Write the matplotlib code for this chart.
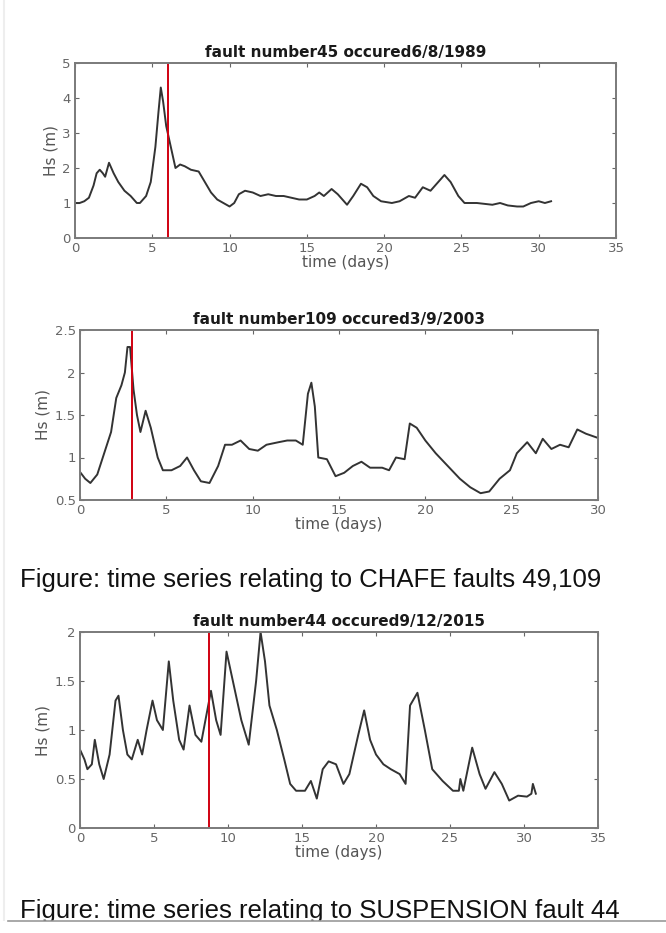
import matplotlib.pyplot as plt

# fault 45 (CHAFE) - Hs time series
t1 = [0, 0.3, 0.6, 0.9, 1.2, 1.4, 1.6, 1.8, 1.95, 2.2, 2.5, 2.8, 3.2, 3.6, 4.0, 4.2,
      4.6, 4.9, 5.2, 5.4, 5.55, 5.7, 5.9, 6.2, 6.5, 6.8, 7.1, 7.5, 8.0, 8.4, 8.8, 9.2,
      9.6, 10.0, 10.3, 10.6, 11.0, 11.5, 12.0, 12.5, 13.0, 13.5, 14.0, 14.5, 15.0, 15.5,
      15.8, 16.1, 16.6, 17.0, 17.6, 18.0, 18.5, 18.9, 19.3, 19.8, 20.5, 21.0, 21.6, 22.0,
      22.5, 23.0, 23.5, 23.9, 24.3, 24.8, 25.2, 26.0, 27.0, 27.5, 28.0, 28.6, 29.0, 29.5,
      30.0, 30.4, 30.8]
hs1 = [1.0, 1.0, 1.05, 1.15, 1.5, 1.85, 1.95, 1.85, 1.75, 2.15, 1.85, 1.6, 1.35, 1.2, 1.0, 1.0,
       1.2, 1.6, 2.6, 3.6, 4.3, 3.9, 3.2, 2.6, 2.0, 2.1, 2.05, 1.95, 1.9, 1.6, 1.3, 1.1,
       1.0, 0.9, 1.0, 1.25, 1.35, 1.3, 1.2, 1.25, 1.2, 1.2, 1.15, 1.1, 1.1, 1.2,
       1.3, 1.2, 1.4, 1.25, 0.95, 1.2, 1.55, 1.45, 1.2, 1.05, 1.0, 1.05, 1.2, 1.15,
       1.45, 1.35, 1.6, 1.8, 1.6, 1.2, 1.0, 1.0, 0.95, 1.0, 0.93, 0.9, 0.9, 1.0,
       1.05, 1.0, 1.05]

# fault 109 (CHAFE)
t2 = [0, 0.3, 0.6, 1.0, 1.4, 1.8, 2.1, 2.4, 2.6, 2.75, 2.9, 3.1, 3.3, 3.5, 3.8, 4.1,
      4.5, 4.8, 5.3, 5.8, 6.2, 6.6, 7.0, 7.5, 8.0, 8.4, 8.8, 9.3, 9.8, 10.3, 10.8, 11.5,
      12.0, 12.5, 12.9, 13.2, 13.4, 13.6, 13.8, 14.3, 14.8, 15.3, 15.8, 16.3, 16.8, 17.5,
      17.9, 18.3, 18.8, 19.1, 19.5, 20.0, 20.6, 21.3, 22.0, 22.6, 23.2, 23.7, 24.3, 24.9,
      25.3, 25.9, 26.4, 26.8, 27.3, 27.8, 28.3, 28.8, 29.3, 30.0]
hs2 = [0.83, 0.75, 0.7, 0.8, 1.05, 1.3, 1.7, 1.85, 2.0, 2.3, 2.3, 1.8, 1.5, 1.3, 1.55, 1.35,
       1.0, 0.85, 0.85, 0.9, 1.0, 0.85, 0.72, 0.7, 0.9, 1.15, 1.15, 1.2, 1.1, 1.08, 1.15, 1.18,
       1.2, 1.2, 1.15, 1.75, 1.88, 1.6, 1.0, 0.98, 0.78, 0.82, 0.9, 0.95, 0.88, 0.88,
       0.85, 1.0, 0.98, 1.4, 1.35, 1.2, 1.05, 0.9, 0.75, 0.65, 0.58, 0.6, 0.75, 0.85,
       1.05, 1.18, 1.05, 1.22, 1.1, 1.15, 1.12, 1.33, 1.28, 1.23]

# fault 44 (SUSPENSION)
t3 = [0, 0.3, 0.5, 0.8, 1.0, 1.3, 1.6, 2.0, 2.4, 2.6, 2.9, 3.2, 3.5, 3.9, 4.2, 4.5,
      4.9, 5.2, 5.6, 6.0, 6.3, 6.7, 7.0, 7.4, 7.8, 8.2, 8.6, 8.85, 9.2, 9.5, 9.9, 10.4,
      10.9, 11.4, 11.9, 12.2, 12.5, 12.8, 13.3, 13.8, 14.2, 14.6, 15.2, 15.6, 16.0, 16.4,
      16.8, 17.3, 17.8, 18.2, 18.8, 19.2, 19.6, 20.0, 20.5, 21.0, 21.6, 22.0, 22.3, 22.8,
      23.3, 23.8, 24.5, 25.2, 25.6, 25.7, 25.9, 26.5, 27.0, 27.4, 28.0, 28.5, 29.0, 29.6,
      30.2, 30.5, 30.6, 30.8]
hs3 = [0.8, 0.7, 0.6, 0.65, 0.9, 0.65, 0.5, 0.75, 1.3, 1.35, 1.0, 0.75, 0.7, 0.9, 0.75, 1.0,
       1.3, 1.1, 1.0, 1.7, 1.3, 0.9, 0.8, 1.25, 0.95, 0.88, 1.2, 1.4, 1.1, 0.95, 1.8, 1.45,
       1.1, 0.85, 1.5, 2.0, 1.7, 1.25, 1.0, 0.7, 0.45, 0.38, 0.38, 0.48, 0.3, 0.6,
       0.68, 0.65, 0.45, 0.55, 0.95, 1.2, 0.9, 0.75, 0.65, 0.6, 0.55, 0.45, 1.25, 1.38,
       1.0, 0.6, 0.48, 0.38, 0.38, 0.5, 0.38, 0.82, 0.55, 0.4, 0.57, 0.45, 0.28, 0.33,
       0.32, 0.35, 0.45, 0.35]

titles = ["fault number45 occured6/8/1989",
          "fault number109 occured3/9/2003",
          "fault number44 occured9/12/2015"]
fault_times = [6.0, 3.0, 8.7]
captions = ["Figure: time series relating to CHAFE faults 49,109",
            "Figure: time series relating to SUSPENSION fault 44"]

W, H = 666, 933
fig = plt.figure(figsize=(W / 100, H / 100), dpi=100)


def box(l, t, r, b):
    return [l / W, 1 - b / H, (r - l) / W, (b - t) / H]


def panel(rect, t, hs, title, tf, xlim, ylim, yticks):
    ax = fig.add_axes(rect)
    ax.plot(t, hs, color="#333333", lw=1.4)
    ax.axvline(tf, color="#d00010", lw=1.4)
    ax.set_xlim(xlim)
    ax.set_ylim(ylim)
    ax.set_yticks(yticks)
    ax.set_yticklabels([f"{v:g}" for v in yticks])
    ax.set_title(title, fontsize=11, fontweight="bold", pad=4, color="#1a1a1a")
    ax.set_xlabel("time (days)", fontsize=11, color="#555555", labelpad=0)
    ax.set_ylabel("Hs (m)", fontsize=11, color="#555555", labelpad=3)
    ax.tick_params(direction="in", top=True, right=True, length=3, width=0.8,
                   labelsize=9.5, colors="#666666", pad=3)
    for s in ax.spines.values():
        s.set_color("#7a7a7a")
        s.set_linewidth(1.4)
    return ax


panel(box(75, 63, 616, 238), t1, hs1, titles[0], fault_times[0], (0, 35), (0, 5), [0, 1, 2, 3, 4, 5])
panel(box(80, 330, 598, 500), t2, hs2, titles[1], fault_times[1], (0, 30), (0.5, 2.5), [0.5, 1, 1.5, 2, 2.5])
panel(box(80, 632, 598, 828), t3, hs3, titles[2], fault_times[2], (0, 35), (0, 2), [0, 0.5, 1, 1.5, 2])

fig.text(20 / W, 1 - 580 / H, captions[0], fontsize=18.5, family="Liberation Sans",
         color="#111111", va="center", ha="left")
fig.text(20 / W, 1 - 911 / H, captions[1], fontsize=18.5, family="Liberation Sans",
         color="#111111", va="center", ha="left")

# clip the bottom caption like the screenshot, with the grey rule under it
fig.patches.append(plt.Rectangle((0, 0), 1, 1 - 921 / H, transform=fig.transFigure,
                                 facecolor="white", edgecolor="none", zorder=5))
fig.lines.append(plt.Line2D([8 / W, 1], [1 - 921 / H, 1 - 921 / H], transform=fig.transFigure,
                            color="#9a9a9a", lw=1.2, zorder=6))
fig.lines.append(plt.Line2D([4 / W, 4 / W], [1 - 921 / H, 1], transform=fig.transFigure,
                            color="#eeeeee", lw=1.5))

fig.savefig("out.png", dpi=100)
